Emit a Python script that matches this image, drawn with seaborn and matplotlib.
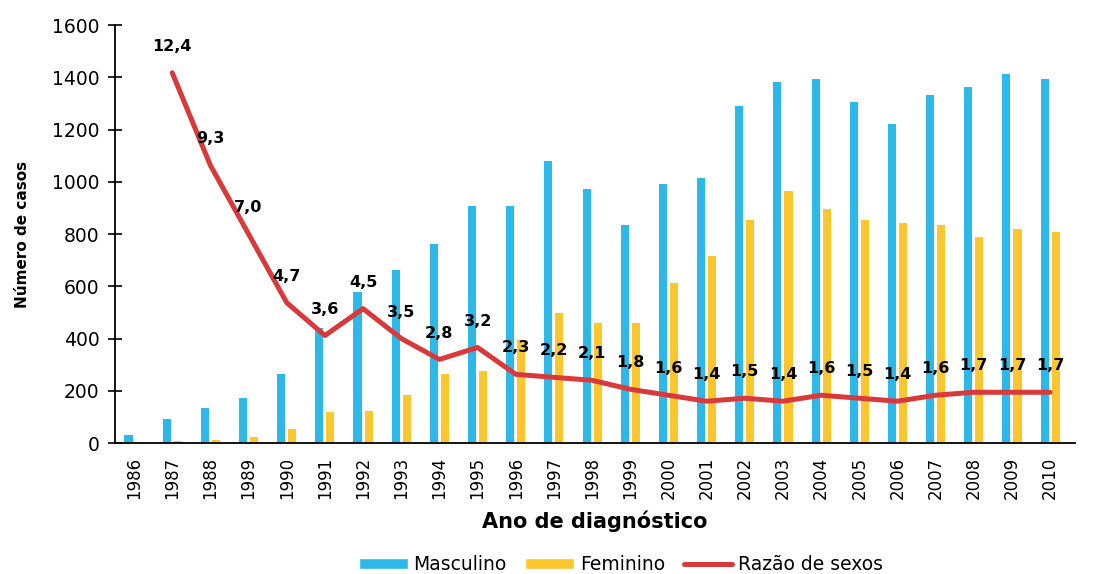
import matplotlib
matplotlib.use("Agg")
import matplotlib.pyplot as plt
import seaborn as sns
import pandas as pd
import numpy as np
from matplotlib.patches import Patch
from matplotlib.lines import Line2D
from matplotlib.ticker import FixedLocator, NullFormatter

years = [str(y) for y in range(1986, 2011)]
masculino = [31, 92, 135, 174, 264, 441, 578, 663, 762, 908, 908, 1079, 971, 835,
             993, 1015, 1291, 1381, 1393, 1306, 1220, 1333, 1361, 1414, 1393]
feminino = [0, 7, 11, 24, 54, 118, 124, 184, 264, 276, 394, 497, 458, 458,
            614, 714, 854, 965, 896, 854, 844, 835, 788, 820, 809]
ratio_years = [str(y) for y in range(1987, 2011)]
razao = [12.4, 9.3, 7.0, 4.7, 3.6, 4.5, 3.5, 2.8, 3.2, 2.3, 2.2, 2.1, 1.8, 1.6,
         1.4, 1.5, 1.4, 1.6, 1.5, 1.4, 1.6, 1.7, 1.7, 1.7]
series_names = ["Masculino", "Feminino", "Razão de sexos"]

C_M = "#2CB9EA"
C_F = "#FCC72E"
C_R = "#D9393B"

sns.set_style("white")
plt.rcParams["font.family"] = ["DejaVu Sans"]
plt.rcParams.update({"text.color": "black", "axes.labelcolor": "black",
                     "xtick.color": "black", "ytick.color": "black"})

df = pd.DataFrame({
    "ano": years * 2,
    "casos": masculino + feminino,
    "sexo": [series_names[0]] * len(years) + [series_names[1]] * len(years),
})
df_r = pd.DataFrame({"pos": [years.index(y) for y in ratio_years], "razao": razao})

fig = plt.figure(figsize=(10.99, 5.74), dpi=100)
ax = fig.add_axes([0.1046, 0.2282, 0.8735, 0.7282])

sns.barplot(data=df, x="ano", y="casos", hue="sexo", order=years,
            palette=[C_M, C_F], width=0.58, gap=0.27, ax=ax, legend=False,
            saturation=1, linewidth=0)

ax2 = ax.twinx()
sns.lineplot(data=df_r, x="pos", y="razao", color=C_R, linewidth=3.6, ax=ax2,
             legend=False)
ax2.set_ylim(0, 14)
ax2.axis("off")
for x, v in zip(df_r["pos"], df_r["razao"]):
    ax2.annotate(f"{v:.1f}".replace(".", ","), (x, v), xytext=(0, 19),
                 textcoords="offset points", ha="center", va="center",
                 fontsize=11.5, fontweight="bold", color="black")

ax.set_xlim(-0.5, 24.65)
ax.set_ylim(0, 1600)
ax.set_yticks(range(0, 1601, 200))
ax.tick_params(axis="y", direction="inout", length=10, width=1.2, labelsize=13.5,
               pad=6)
ax.xaxis.set_minor_locator(FixedLocator(np.arange(-0.5, 25, 1.0)))
ax.xaxis.set_minor_formatter(NullFormatter())
ax.tick_params(axis="x", which="minor", direction="inout", length=10, width=1.2)
ax.tick_params(axis="x", which="major", length=0, labelsize=12, pad=10,
               labelrotation=90)

for s in ["top", "right"]:
    ax.spines[s].set_visible(False)
for s in ["left", "bottom"]:
    ax.spines[s].set_color("black")
    ax.spines[s].set_linewidth(1.3)

ax.set_xlabel("Ano de diagnóstico", fontsize=15, fontweight="bold", labelpad=8)
ax.set_ylabel("Número de casos", fontsize=11, fontweight="bold", labelpad=16)

handles = [Patch(facecolor=C_M), Patch(facecolor=C_F),
           Line2D([0], [0], color=C_R, linewidth=3.6)]
fig.legend(handles, series_names, loc="center", bbox_to_anchor=(0.565, 0.016),
           ncol=3, frameon=False, fontsize=13.5, handlelength=2.6,
           handleheight=0.5, handletextpad=0.3, columnspacing=1.0)

fig.savefig("out.png", dpi=100, facecolor="white")
